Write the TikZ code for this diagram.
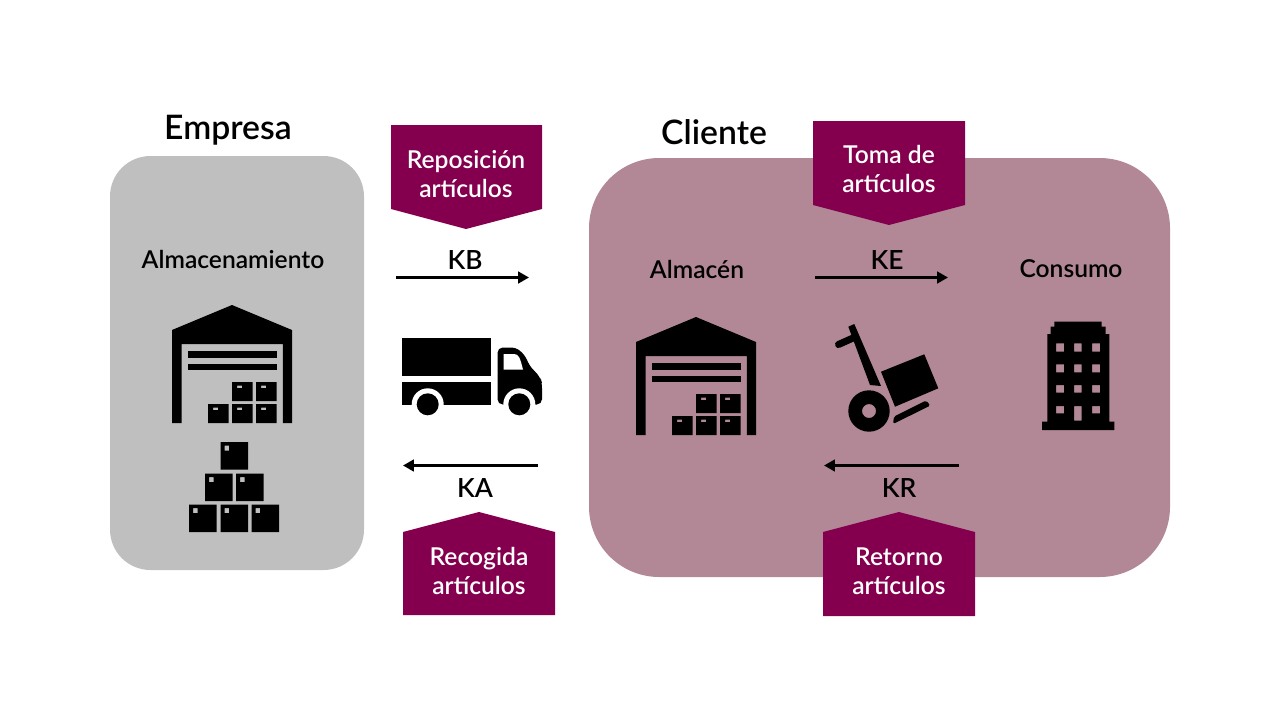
\documentclass[tikz,border=0pt]{standalone}
\usepackage{fontspec}
\usepackage{xcolor}
\setmainfont{Lato Semibold}
\usetikzlibrary{arrows.meta,positioning}
\definecolor{granate}{HTML}{84004E}
\definecolor{rosa}{HTML}{B28897}
\definecolor{gris}{HTML}{BFBFBF}

\begin{document}
\begin{tikzpicture}[
    x=0.02cm, y=-0.02cm,
    titulo/.style={font=\fontsize{19.2}{22}\selectfont, inner sep=0pt},
    zona/.style={font=\fontsize{14}{17}\selectfont, inner sep=0pt},
    clave/.style={font=\fontsize{15}{18}\selectfont, inner sep=0pt},
    etiqueta/.style={font=\fontsize{14}{16.5}\selectfont, text=white, align=center, inner sep=0pt},
    aviso/.style={fill=granate},
    flecha/.style={-{Triangle[length=6.2pt,width=6.6pt]}, line width=1.9pt},
    caja/.pic={
      \fill[even odd rule] (0,0) rectangle (27.5,27.5) (4,3.5) rectangle (8.5,8.5);
    },
    cajita/.pic={
      \fill[even odd rule] (0,0) rectangle (20.5,19) (5,3.5) rectangle (10,6);
    },
    almacen/.pic={
      \fill (0,0) -- (60,25) -- (60,118) -- (50.8,118) -- (50.8,39) -- (-50.5,39)
        -- (-50.5,118) -- (-60,118) -- (-60,25) -- cycle;
      \fill (-44,46) rectangle (44.5,52.5);
      \fill (-44,58.5) rectangle (44.5,65);
      \pic at (0,77) {cajita};
      \pic at (24,77) {cajita};
      \pic at (-24,99) {cajita};
      \pic at (0,99) {cajita};
      \pic at (24,99) {cajita};
    }
  ]
    \useasboundingbox (0,0) rectangle (1280,720);
    % fondos
    \fill[rosa, rounded corners=40pt] (589,158) rectangle (1170,577);
    \fill[gris, rounded corners=23pt] (110,156) rectangle (364,570);

    \node[titulo] (empresa) at (228,130) {Empresa};
    \node[titulo] (cliente) at (714,132) {Cliente};
    \node[zona] (almacenamiento) at (233,259) {Almacenamiento};
    \node[zona] (almacenc) at (697,269) {Almacén};
    \node[zona] (consumo) at (1071,269) {Consumo};

    % avisos
    \fill[aviso] (391,125) -- (542,125) -- (542,209) -- (466,229) -- (391,209) -- cycle;
    \node[etiqueta] (reposicion) at (466,174) {Reposición\\artículos};
    \fill[aviso] (813,121) -- (965,121) -- (965,205) -- (889,225) -- (813,205) -- cycle;
    \node[etiqueta] (toma) at (889,169) {Toma de\\artículos};
    \fill[aviso] (403,532) -- (479,512) -- (555,532) -- (555,615) -- (403,615) -- cycle;
    \node[etiqueta] (recogida) at (479,571) {Recogida\\artículos};
    \fill[aviso] (823,532) -- (899,512) -- (975,532) -- (975,616) -- (823,616) -- cycle;
    \node[etiqueta] (retorno) at (899,571) {Retorno\\artículos};

    % flechas
    \coordinate (kb1) at (396,277.5);
    \coordinate (kb2) at (529,277.5);
    \coordinate (ke1) at (815,277.5);
    \coordinate (ke2) at (948,277.5);
    \coordinate (ka1) at (538,465.5);
    \coordinate (ka2) at (403,465.5);
    \coordinate (kr1) at (959,465.5);
    \coordinate (kr2) at (824,465.5);
    \draw[flecha] (kb1) -- (kb2);
    \draw[flecha] (ke1) -- (ke2);
    \draw[flecha] (ka1) -- (ka2);
    \draw[flecha] (kr1) -- (kr2);
    \node[clave] (kb) at (465,260) {KB};
    \node[clave] (ke) at (887,260) {KE};
    \node[clave] (ka) at (475,488) {KA};
    \node[clave] (kr) at (899,488) {KR};

    % almacenes y pila de cajas
    \pic at (232,305) {almacen};
    \pic at (696,317) {almacen};
    \pic at (220.5,442) {caja};
    \pic at (205,473.5) {caja};
    \pic at (236,473.5) {caja};
    \pic at (189,504.5) {caja};
    \pic at (220.5,504.5) {caja};
    \pic at (251.5,504.5) {caja};

    % camion
    \fill (402,338) rectangle (491,376);
    \fill (402,382) rectangle (491,404.5);
    \fill[rounded corners=2pt] (497.5,347.5) -- (515,347.5) [rounded corners=4pt] -- (525,354) -- (529,366)
      -- (540,376) [rounded corners=3pt] -- (542,383) -- (542,404.5) -- (497.5,404.5) -- cycle;
    \fill[white] (503.5,354) -- (514,354) .. controls (519,354) and (520,358) .. (523,369.5) -- (503.5,369.5) -- cycle;
    \fill[white] (427.7,404.3) circle (16);
    \fill[white] (519.3,404.3) circle (16);
    \fill (427.7,404.3) circle (11);
    \fill (519.3,404.3) circle (11);

    % carretilla
    \fill (848.3,326.7) -- (854.3,324) -- (881,386) -- (870,385) -- cycle;
    \draw[line width=4pt, line cap=round] (838.5,344.5) -- (853,338);
    \fill (881,371.7) -- (924.3,354.3) -- (938.3,388.3) -- (895,406.7) -- cycle;
    \fill[even odd rule] (869,411) circle (20.7) (869,411) circle (7);
    \fill[rounded corners=1pt] (894,416.5) -- (926,400.5) -- (930.5,405.5) -- (893,424) -- cycle;

    % edificio
    \fill[even odd rule] (1054.3,321.7) -- (1101.7,321.7) -- (1101.7,326.7) -- (1105.7,326.7) -- (1105.7,334)
      -- (1109.3,334) -- (1109.3,421.7) -- (1114.3,421.7) -- (1114.3,430) -- (1042,430) -- (1042,421.7)
      -- (1047.3,421.7) -- (1047.3,334) -- (1050.7,334) -- (1050.7,326.7) -- (1054.3,326.7) -- cycle
      (1056,343.3) rectangle (1064,351.7) (1074,343.3) rectangle (1081.7,351.7) (1092,343.3) rectangle (1100,351.7)
      (1056,364.3) rectangle (1064,372.3) (1074,364.3) rectangle (1081.7,372.3) (1092,364.3) rectangle (1100,372.3)
      (1056,385) rectangle (1064,392.7) (1074,385) rectangle (1081.7,392.7) (1092,385) rectangle (1100,392.7)
      (1056,406) rectangle (1064,413.3) (1074,406) rectangle (1081.7,420.7) (1092,406) rectangle (1100,413.3);
  \end{tikzpicture}
\end{document}
